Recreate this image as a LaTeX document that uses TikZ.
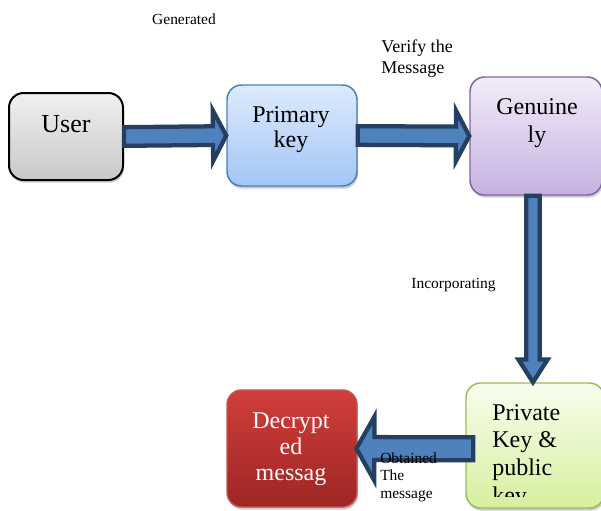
\documentclass[tikz,border=0pt]{standalone}
\usepackage{fontspec}
\setmainfont{Liberation Serif}
\usetikzlibrary{calc,shadows}

\definecolor{arrowfill}{RGB}{79,129,189}
\definecolor{arrowline}{RGB}{36,63,96}
\definecolor{usertop}{RGB}{240,240,240}
\definecolor{userbot}{RGB}{200,200,200}
\definecolor{primtop}{RGB}{222,234,252}
\definecolor{primbot}{RGB}{163,197,246}
\definecolor{primline}{RGB}{74,126,187}
\definecolor{gentop}{RGB}{242,236,248}
\definecolor{genbot}{RGB}{198,178,224}
\definecolor{genline}{RGB}{128,100,162}
\definecolor{privtop}{RGB}{248,253,238}
\definecolor{privbot}{RGB}{214,240,158}
\definecolor{privline}{RGB}{155,187,89}
\definecolor{dectop}{RGB}{208,62,58}
\definecolor{decbot}{RGB}{158,38,36}
\definecolor{decline}{RGB}{196,84,80}

\tikzset{
  box/.style={rounded corners=11pt, line width=1.1pt,
    drop shadow={shadow xshift=0.8pt, shadow yshift=-2pt, opacity=0.4}},
  boxtext/.style={inner sep=0pt, align=center, font=\fontsize{18}{20}\selectfont},
  note/.style={inner sep=0pt, align=left, font=\fontsize{11.6}{13}\selectfont},
  % wide flat arrow: #1 half shaft, #2 half head, #3 head length (pt)
  blockarrow/.style n args={3}{draw=arrowline, fill=arrowfill, line width=3.2pt, line join=miter,
    to path={let \p1=(\tikztostart), \p2=(\tikztotarget),
      \n1={atan2(\y2-\y1,\x2-\x1)}, \n2={veclen(\x2-\x1,\y2-\y1)} in
      ($(\p1)+({\n1+90}:#1pt)$)
      -- ($(\p1)+(\n1:{(\n2-#3)*1pt})+({\n1+90}:#1pt)$)
      -- ($(\p1)+(\n1:{(\n2-#3)*1pt})+({\n1+90}:#2pt)$)
      -- (\p2)
      -- ($(\p1)+(\n1:{(\n2-#3)*1pt})+({\n1-90}:#2pt)$)
      -- ($(\p1)+(\n1:{(\n2-#3)*1pt})+({\n1-90}:#1pt)$)
      -- ($(\p1)+({\n1-90}:#1pt)$) -- cycle}},
}

\begin{document}
\begin{tikzpicture}[x=0.75pt,y=-0.75pt]
 \useasboundingbox (0,0) rectangle (601,511);
 \clip (0,0) rectangle (601,511);

 % boxes
 \node[box, draw=black, line width=1.5pt, top color=usertop, bottom color=userbot,
   minimum width=85.5pt, minimum height=65.25pt] (user) at (66,136.5) {};
 \node[box, draw=primline, top color=primtop, bottom color=primbot,
   minimum width=97.5pt, minimum height=75.75pt] (prim) at (292,135.5) {};
 \node[box, draw=genline, top color=gentop, bottom color=genbot,
   minimum width=99pt, minimum height=88.5pt] (gen) at (536,136) {};
 \node[box, draw=privline, top color=privtop, bottom color=privbot,
   minimum width=103.5pt, minimum height=93.75pt] (priv) at (535,445.5) {};
 \node[box, draw=decline, top color=dectop, bottom color=decbot,
   minimum width=97.5pt, minimum height=87.75pt] (dec) at (292,448.5) {};

 % box texts (base = last line)
 \node[boxtext, anchor=base, font=\fontsize{19.5}{20}\selectfont] (user-t) at (66,132) {User};
 \node[boxtext, anchor=base, font=\fontsize{18}{18.75}\selectfont] (prim-t) at (291,147) {Primary\\key};
 \node[boxtext, anchor=base, font=\fontsize{18}{21}\selectfont] (gen-t) at (537,142) {Genuine\\ly};
 \node[boxtext, anchor=base, text=white, font=\fontsize{18}{19.5}\selectfont] (dec-t) at (291,480) {Decrypt\\ed\\messag};
 \begin{scope}
  \clip (priv.north west) rectangle ([yshift=9pt]priv.south east);
  \node[boxtext, anchor=base west, align=left, font=\fontsize{18}{20.75}\selectfont] (priv-t) at (492,503) {Private\\Key \&\\public\\key};
 \end{scope}

 % arrows
 \draw[blockarrow={7}{19}{10}] (user.east) to (prim.west);
 \draw[blockarrow={7}{19}{10}] (prim.east) to (gen.west);
 \draw[blockarrow={5}{10.9}{17}] ([xshift=-2.25pt]gen.south) to ([xshift=-1.5pt]priv.north);
 \draw[blockarrow={8.6}{24}{13.5}] ([xshift=6pt,yshift=-2.5pt]priv.west) to ([xshift=-1pt]dec.east);

 % labels
 \node[note, anchor=base] (gen-lbl) at (184,24) {Generated};
 \node[note, anchor=base west, font=\fontsize{13.5}{15.75}\selectfont] (ver-lbl) at (381,73) {Verify the\\Message};
 \node[note, anchor=base] (inc-lbl) at (453.5,288) {Incorporating};
 \node[note, anchor=base west] (obt-lbl) at (380,498) {Obtained\\The\\message};
\end{tikzpicture}
\end{document}
